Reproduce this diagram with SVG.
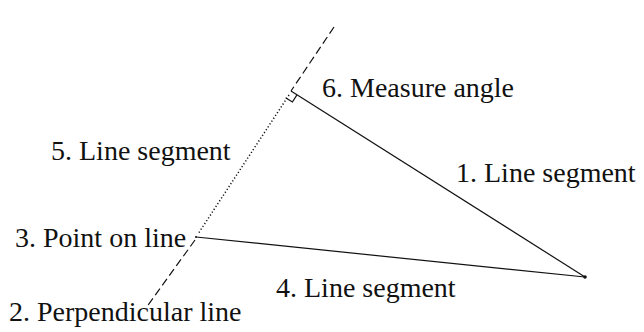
<svg xmlns="http://www.w3.org/2000/svg" width="644" height="332" viewBox="0 0 644 332">
  <style>
    .lbl { font-family: "Liberation Serif", "Times New Roman", serif; font-size: 28px; fill: #111; }
    .ln { stroke: #111; stroke-width: 1.2; fill: none; }
    .dash { stroke-dasharray: 8 4; }
    .dot { stroke-width: 1.5; stroke-dasharray: 1.2 2.2; }
  </style>
  <rect width="644" height="332" fill="#fff"/>
  <g id="connectors">
    <line id="perp-top" class="ln dash" x1="334" y1="27" x2="291" y2="91"/>
    <line id="seg5" class="ln dot" x1="289" y1="95" x2="198" y2="234"/>
    <line id="perp-bottom" class="ln dash" x1="195" y1="240" x2="146" y2="308"/>
    <line id="seg1" class="ln" x1="291" y1="91" x2="585" y2="277"/>
    <line id="seg4" class="ln" x1="196" y1="237" x2="585" y2="277"/>
    <polyline id="right-angle" class="ln" points="285.6,97.7 292.4,102 296.8,95.2"/>
    <circle cx="585" cy="277" r="1.8" fill="#111"/>
    <circle cx="196" cy="237" r="1" fill="#111"/>
  </g>
  <g id="label6"><text class="lbl" x="322" y="97">6. Measure angle</text></g>
  <g id="label5"><text class="lbl" x="51" y="160">5. Line segment</text></g>
  <g id="label1"><text class="lbl" x="456" y="182">1. Line segment</text></g>
  <g id="label3"><text class="lbl" x="15" y="247">3. Point on line</text></g>
  <g id="label4"><text class="lbl" x="276" y="297">4. Line segment</text></g>
  <g id="label2"><text class="lbl" x="9" y="321">2. Perpendicular line</text></g>
</svg>
